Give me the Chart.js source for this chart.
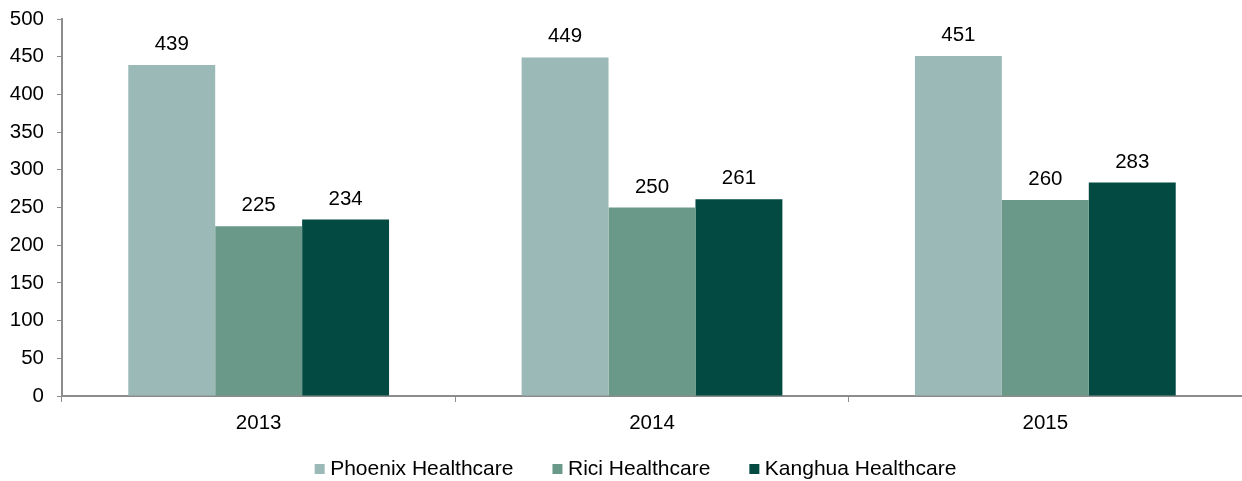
<!DOCTYPE html>
<html>
<head>
<meta charset="utf-8">
<script src="https://cdn.jsdelivr.net/npm/chart.js@4/dist/chart.umd.min.js"></script>
<style>
  html, body { margin: 0; padding: 0; background: #fff; overflow: hidden; }
  #wrap { width: 1242px; height: 481px; }
</style>
</head>
<body>
<div id="wrap"><canvas id="mycanvas"></canvas></div>
<script>
var years = ["2013", "2014", "2015"];
var phoenix = [439, 449, 451];
var rici = [225, 250, 260];
var kanghua = [234, 261, 283];
var yTicks = [0, 50, 100, 150, 200, 250, 300, 350, 400, 450, 500];

var FONT = "'Liberation Sans', Arial, sans-serif";
var FSIZE = 20.5;

// draws the number above each bar
var valueLabels = {
	id: "valueLabels",
	afterDatasetsDraw: function(chart) {
		var ctx = chart.ctx;
		ctx.save();
		ctx.font = FSIZE + "px " + FONT;
		ctx.fillStyle = "#000";
		ctx.textAlign = "center";
		ctx.textBaseline = "alphabetic";
		chart.data.datasets.forEach(function(ds, i) {
			chart.getDatasetMeta(i).data.forEach(function(bar, j) {
				ctx.fillText(ds.data[j], bar.x, bar.y - 15);
			});
		});
		ctx.restore();
	}
};

// axis boxes are kept tight for the layout; widen their clip areas so labels still show
var looseLabels = {
	id: "looseLabels",
	afterLayout: function(chart) {
		chart.scales.x.bottom = chart.height;
		chart.scales.y.left = 0;
	}
};

var chartdata = {
	labels: years,
	datasets: [
		{ label: "Phoenix Healthcare", backgroundColor: "#9BBAB7", data: phoenix },
		{ label: "Rici Healthcare", backgroundColor: "#6A998A", data: rici },
		{ label: "Kanghua Healthcare", backgroundColor: "#024A42", data: kanghua }
	]
};

var ctx = document.getElementById("mycanvas");

var BarGraph = new Chart(ctx, {
	type: "bar",
	data: chartdata,
	plugins: [valueLabels, looseLabels],
	options: {
		responsive: true,
		maintainAspectRatio: false,
		animation: false,
		layout: { padding: { top: 19, right: 0, left: 34, bottom: -8.5 } },
		datasets: { bar: { barPercentage: 1, categoryPercentage: 0.663 } },
		plugins: {
			tooltip: { enabled: false },
			legend: {
				position: "bottom",
				labels: {
					font: { family: FONT, size: 21 },
					color: "#000",
					usePointStyle: true,
					pointStyle: "rect",
					boxWidth: 0.01,
					boxHeight: 10,
					padding: 44
				}
			}
		},
		scales: {
			x: {
				afterFit: function(axis) { axis.height = 18.5; },
				grid: {
					offset: true,
					drawOnChartArea: false,
					drawTicks: true,
					tickLength: 6,
					color: "#8c8c8c"
				},
				border: { color: "#8c8c8c", width: 2 },
				ticks: { font: { family: FONT, size: FSIZE }, color: "#000", padding: 9 }
			},
			y: {
				min: 0,
				max: 500,
				afterBuildTicks: function(axis) {
					axis.ticks = yTicks.map(function(v) { return { value: v }; });
				},
				afterFit: function(axis) {
					axis.width = 28;
					axis.paddingTop = 0;
					axis.paddingBottom = 0;
				},
				grid: {
					drawOnChartArea: false,
					drawTicks: true,
					tickLength: 5,
					color: "#8c8c8c"
				},
				border: { color: "#8c8c8c", width: 2 },
				ticks: { font: { family: FONT, size: FSIZE }, color: "#000", padding: 13 }
			}
		}
	}
});
</script>
</body>
</html>
